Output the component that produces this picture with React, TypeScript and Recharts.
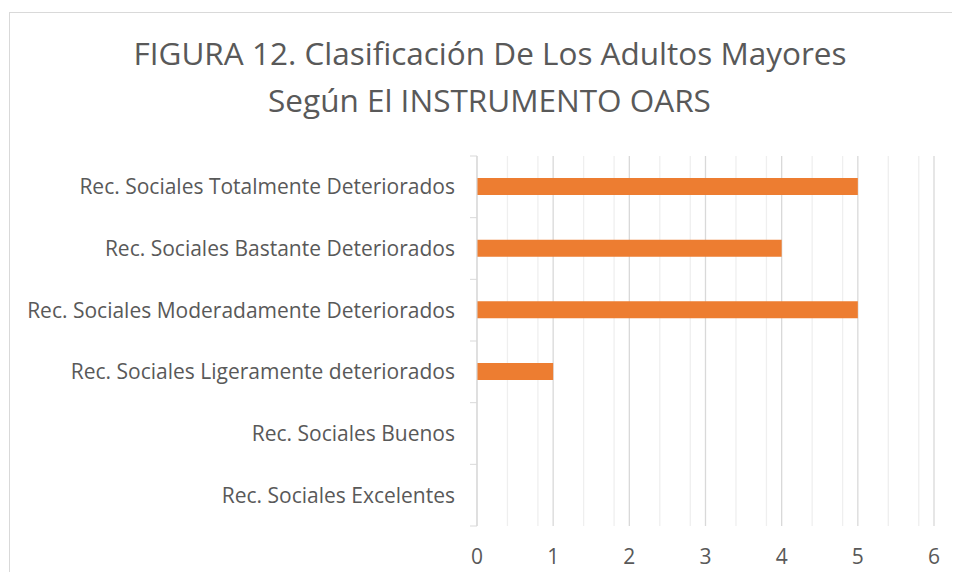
import React from 'react';
import { BarChart, Bar, XAxis, YAxis, CartesianGrid } from 'recharts';

const categories = [
  'Rec. Sociales Totalmente Deteriorados',
  'Rec. Sociales Bastante Deteriorados',
  'Rec. Sociales Moderadamente Deteriorados',
  'Rec. Sociales Ligeramente deteriorados',
  'Rec. Sociales Buenos',
  'Rec. Sociales Excelentes',
];
const counts = [5, 4, 5, 1, 0, 0];
const majorTicks = [0, 1, 2, 3, 4, 5, 6];
const minorTicks = [
  0.2, 0.4, 0.6, 0.8, 1.2, 1.4, 1.6, 1.8, 2.2, 2.4, 2.6, 2.8,
  3.2, 3.4, 3.6, 3.8, 4.2, 4.4, 4.6, 4.8, 5.2, 5.4, 5.6, 5.8,
];
const titleLines = ['FIGURA 12. Clasificación De Los Adultos Mayores', 'Según El INSTRUMENTO OARS'];

const data = categories.map((name, i) => ({ name, value: counts[i] }));

const W = 944;
const H = 564;
const MARGIN = { top: 148, right: 18, bottom: 16, left: 0 };
const X_AXIS_H = 30;
const Y_AXIS_W = 469;
const PLOT_H = H - MARGIN.top - MARGIN.bottom - X_AXIS_H;
const BAND = PLOT_H / categories.length;
const FONT = '"Open Sans", sans-serif';
const TEXT = '#595959';
const TICK_SIZE = 7;
const TICK_MARGIN = 15;

const YTick = (props: any) => {
  const { x, y, payload, index } = props;
  const lx1 = x + TICK_MARGIN;
  const lx2 = lx1 + TICK_SIZE;
  return (
    <g>
      <line x1={lx1} x2={lx2} y1={y - BAND / 2} y2={y - BAND / 2} stroke="#d9d9d9" strokeWidth={1} />
      {index === categories.length - 1 && (
        <line x1={lx1} x2={lx2} y1={y + BAND / 2} y2={y + BAND / 2} stroke="#d9d9d9" strokeWidth={1} />
      )}
      <text x={x} y={y} dy="0.35em" textAnchor="end" fill={TEXT} fontSize={21} fontFamily={FONT}>
        {payload.value}
      </text>
    </g>
  );
};

export default function App() {
  return (
    <div style={{ position: 'relative', width: W, height: H, overflow: 'hidden', background: '#fff' }}>
      <div
        style={{
          position: 'absolute',
          left: 1,
          top: 4,
          width: 1200,
          height: 1200,
          border: '1px solid #d9d9d9',
          boxSizing: 'border-box',
        }}
      />
      <svg width={W} height={140} style={{ position: 'absolute', left: 0, top: 0 }}>
        <text x={482} y={57} textAnchor="middle" fill={TEXT} fontSize={31.5} fontFamily={FONT}>
          {titleLines[0]}
        </text>
        <text x={481.5} y={104} textAnchor="middle" fill={TEXT} fontSize={31.5} fontFamily={FONT}>
          {titleLines[1]}
        </text>
      </svg>
      <div style={{ position: 'absolute', left: 0, top: 0 }}>
        <BarChart width={W} height={H} data={data} layout="vertical" margin={MARGIN} barCategoryGap={0}>
          <XAxis
            type="number"
            domain={[0, 6]}
            ticks={majorTicks}
            height={X_AXIS_H}
            axisLine={false}
            tickLine={false}
            tickSize={0}
            tickMargin={23}
            tick={{ fill: TEXT, fontSize: 21, fontFamily: FONT }}
          />
          <YAxis
            type="category"
            dataKey="name"
            width={Y_AXIS_W}
            axisLine={{ stroke: '#d9d9d9' }}
            tickLine={false}
            tickSize={TICK_SIZE}
            tickMargin={TICK_MARGIN}
            tick={<YTick />}
            interval={0}
          />
          <CartesianGrid horizontal={false} verticalValues={minorTicks} stroke="#efefef" strokeWidth={1.3} />
          <CartesianGrid horizontal={false} stroke="#d9d9d9" strokeWidth={1.3} />
          <Bar dataKey="value" fill="#ED7D31" barSize={17} isAnimationActive={false} />
        </BarChart>
      </div>
    </div>
  );
}
